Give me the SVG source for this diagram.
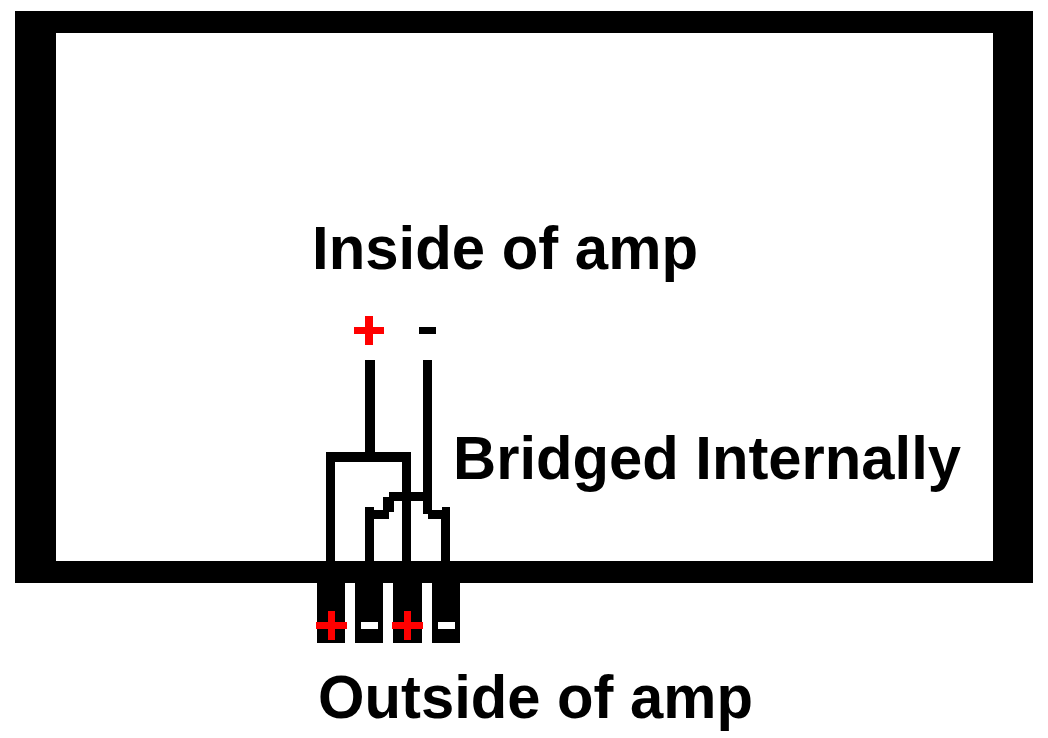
<svg xmlns="http://www.w3.org/2000/svg" width="1048" height="738" viewBox="0 0 1048 738">
<style>
.k{fill:#000}.r{fill:#f00}.w{fill:#fff}
text{font-family:"Liberation Sans",Arial,sans-serif;font-weight:bold;font-size:61.5px;fill:#000}
</style>
<rect width="1048" height="738" fill="#fff"/>
<g id="amp-case"><path class="k" fill-rule="evenodd" d="M15 11H1033V583H15ZM56 33V561H993V33Z"/></g>
<g id="terminals">
<rect class="k" x="317" y="580" width="28" height="63"/>
<rect class="k" x="355" y="580" width="28" height="63"/>
<rect class="k" x="393" y="580" width="29" height="63"/>
<rect class="k" x="432" y="580" width="28" height="63"/>
<path class="r" d="M328 611h7v11h12v7h-12v11h-7v-11h-12v-7h12Z"/>
<rect class="w" x="361" y="622" width="17" height="7"/>
<path class="r" d="M404 611h7v11h12v7h-12v11h-7v-11h-12v-7h12Z"/>
<rect class="w" x="438" y="622" width="17" height="7"/>
</g>
<g id="connectors">
<path class="k" d="M326 562V452H365V360H375V452H411V562H402V462H335V562Z"/>
<path class="k" d="M365 562V507H374V510H383V497H389V492H423V360H432V510H442V507H450V562H441V519H428V514H423V501H394V512H389V519H374V562Z"/>
</g>
<g id="input-signs">
<path class="r" d="M365 316h8v11h11v7h-11v11h-8v-11h-11v-7h11Z"/>
<rect class="k" x="419" y="327" width="17" height="7"/>
</g>
<g id="labels">
<text x="312" y="268.5" textLength="386" lengthAdjust="spacingAndGlyphs">Inside of amp</text>
<text x="453" y="479" textLength="508" lengthAdjust="spacingAndGlyphs">Bridged Internally</text>
<text x="318" y="717.5" textLength="435" lengthAdjust="spacingAndGlyphs">Outside of amp</text>
</g>
</svg>
